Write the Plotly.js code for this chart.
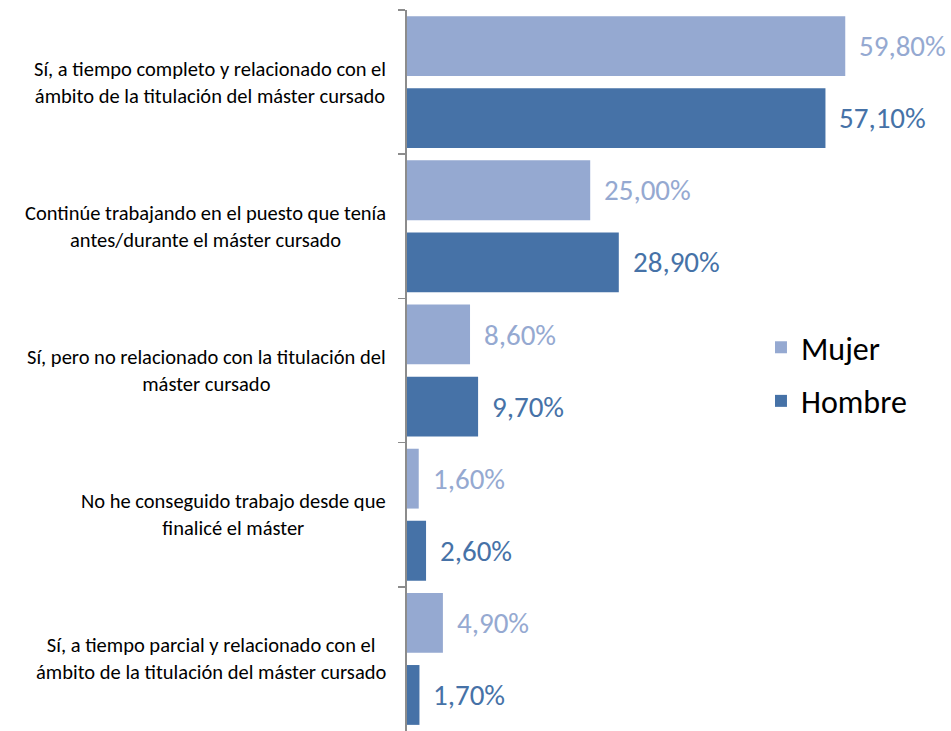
<!DOCTYPE html>
<html>
<head>
<meta charset="utf-8">
<script src="https://cdn.plot.ly/plotly-3.0.1.min.js"></script>
<style>html,body{margin:0;padding:0;background:#fff;}</style>
</head>
<body>
<div id="chart" style="width:951px;height:731px;"></div>
<script>
const categories = [
  "Sí, a tiempo completo y relacionado con el<br>ámbito de la titulación del máster cursado",
  "Continúe trabajando en el puesto que tenía<br>antes/durante el máster cursado",
  "Sí, pero no relacionado con la titulación del<br>máster cursado",
  "No he conseguido trabajo desde que<br>finalicé el máster",
  "Sí, a tiempo parcial y relacionado con el<br>ámbito de la titulación del máster cursado"
];
const mujer = [59.8, 25.0, 8.6, 1.6, 4.9];
const hombre = [57.1, 28.9, 9.7, 2.6, 1.7];
const seriesNames = ["Mujer", "Hombre"];

const cMujer = "#95A9D1";
const cHombre = "#4672A7";
const FONT = "Carlito, Lato, sans-serif";

const fmt = v => v.toFixed(2).replace(".", ",") + "%";

const traces = [
  {type: "bar", orientation: "h", name: seriesNames[0], y: categories, x: mujer,
   legendgroup: "a", marker: {color: cMujer}, hoverinfo: "skip"},
  {type: "bar", orientation: "h", name: seriesNames[1], y: categories, x: hombre,
   legendgroup: "b", marker: {color: cHombre}, hoverinfo: "skip"}
];

const annotations = [];
categories.forEach((c, i) => {
  annotations.push({xref: "paper", yref: "y", x: -0.037, y: c, text: c, showarrow: false,
    xanchor: "right", yanchor: "middle", align: "center",
    font: {family: FONT, size: 20.5, color: "#000"}});
  annotations.push({xref: "x", yref: "y", x: mujer[i], y: c, text: fmt(mujer[i]), showarrow: false,
    xanchor: "left", yanchor: "middle", xshift: 12, yshift: 36,
    font: {family: FONT, size: 29, color: cMujer}});
  annotations.push({xref: "x", yref: "y", x: hombre[i], y: c, text: fmt(hombre[i]), showarrow: false,
    xanchor: "left", yanchor: "middle", xshift: 12, yshift: -36,
    font: {family: FONT, size: 29, color: cHombre}});
});

const layout = {
  width: 951, height: 731,
  margin: {l: 407, r: 31, t: 10, b: 0},
  paper_bgcolor: "#fff", plot_bgcolor: "#fff",
  font: {family: FONT},
  barmode: "group", bargap: 0, bargroupgap: 0.17,
  xaxis: {range: [0, 70], visible: false, fixedrange: true},
  yaxis: {autorange: "reversed", showticklabels: false, showline: true, linecolor: "#8c8c8c",
    linewidth: 2, ticks: "outside", tickson: "boundaries", ticklen: 7, tickcolor: "#8c8c8c",
    tickwidth: 1.5, showgrid: false, zeroline: false, fixedrange: true},
  showlegend: true,
  legend: {x: 0.69, xanchor: "left", y: 0.4945, yanchor: "middle", traceorder: "grouped",
    font: {family: FONT, size: 32, color: "#000"}, bgcolor: "rgba(0,0,0,0)", tracegroupgap: 9},
  annotations: annotations
};

Plotly.newPlot("chart", traces, layout, {displayModeBar: false, staticPlot: true});
</script>
</body>
</html>
